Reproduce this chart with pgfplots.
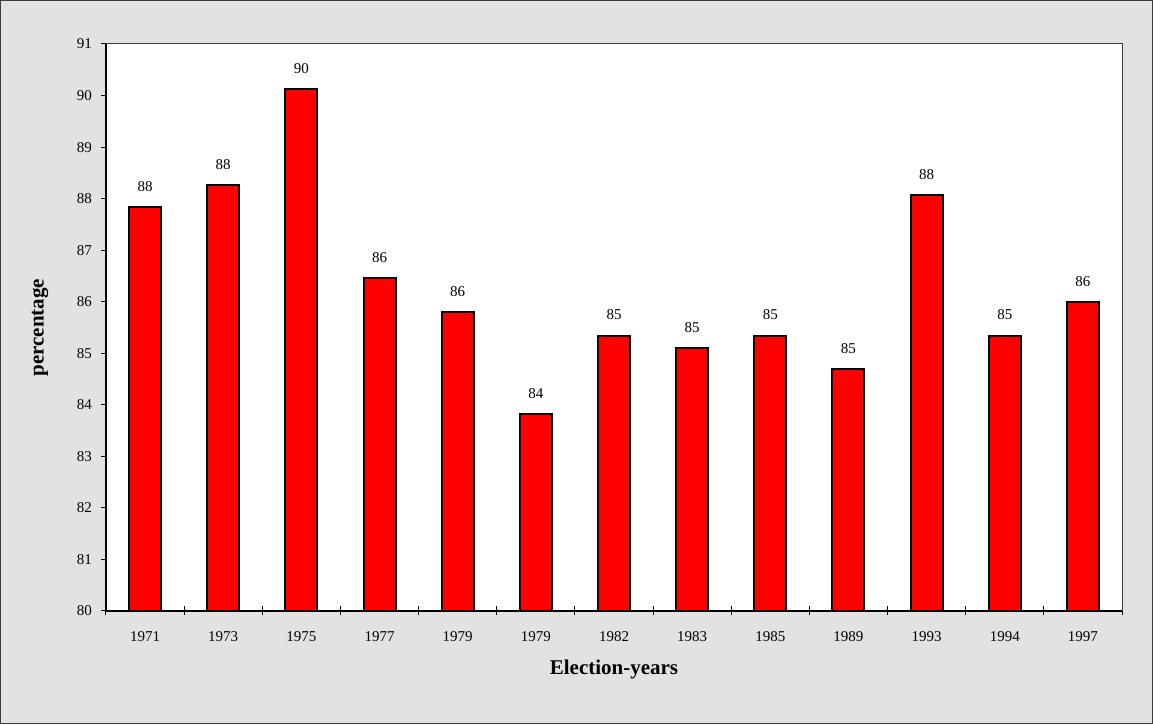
\documentclass[border=0pt]{standalone}
\usepackage{pgfplots}
\pgfplotsset{compat=1.18}
\usepackage{fontspec}
\setmainfont{Liberation Serif}
\definecolor{bg}{RGB}{226,226,226}
\definecolor{frame}{RGB}{60,60,60}
\definecolor{barred}{RGB}{255,0,0}
\begin{document}
\begin{tikzpicture}
\fill[bg] (0,0) rectangle (576.5pt,362pt);
\draw[frame, line width=0.6pt] (0.3pt,0.3pt) rectangle (576.2pt,361.7pt);
\begin{axis}[
  at={(53pt,56.5pt)}, anchor=south west,
  scale only axis, width=508pt, height=283.5pt,
  axis background/.style={fill=white},
  xmin=-0.5, xmax=12.5, ymin=80, ymax=91,
  ytick={80,...,91},
  xtick={0,...,12},
  xticklabels={1971,1973,1975,1977,1979,1979,1982,1983,1985,1989,1993,1994,1997},
  minor xtick={-0.5,0.5,...,12.5},
  tick pos=left,
  xtick align=center, ytick align=outside,
  major tick length=2.5pt, minor tick length=4.5pt,
  xtick style={draw=none},
  minor x tick style={draw=black, line width=0.5pt},
  ytick style={draw=black, line width=0.5pt},
  axis line style={draw=frame, line width=0.5pt},
  /pgf/number format/assume math mode=true,
  ticklabel style={font=\fontsize{7.5}{9}\selectfont},
  yticklabel style={xshift=-1pt},
  xticklabel style={yshift=-5.5pt},
  xlabel={Election-years},
  ylabel={percentage},
  xlabel style={font=\fontsize{10.5}{12}\selectfont\bfseries, at={(axis description cs:0.5,-0.104)}, anchor=center},
  ylabel style={font=\fontsize{10.5}{12}\selectfont\bfseries, at={(axis description cs:-0.065,0.5)}, anchor=center, rotate=0},
  clip=false,
]
\addplot[ybar, bar width=0.41, fill=barred, draw=black, line width=1pt,
  nodes near coords={\pgfmathprintnumber[fixed,precision=0]{\pgfplotspointmeta}},
  nodes near coords style={font=\fontsize{7.5}{9}\selectfont, anchor=south, yshift=4pt, text=black},
] coordinates {
(0,87.84) (1,88.26) (2,90.13) (3,86.46) (4,85.80) (5,83.82) (6,85.34)
(7,85.10) (8,85.34) (9,84.69) (10,88.07) (11,85.34) (12,85.99)
};
\draw[black, line width=0.7pt] (rel axis cs:0,0) -- (rel axis cs:0,1);
\draw[black, line width=0.7pt] (rel axis cs:0,0) -- (rel axis cs:1,0);
\end{axis}
\end{tikzpicture}
\end{document}
